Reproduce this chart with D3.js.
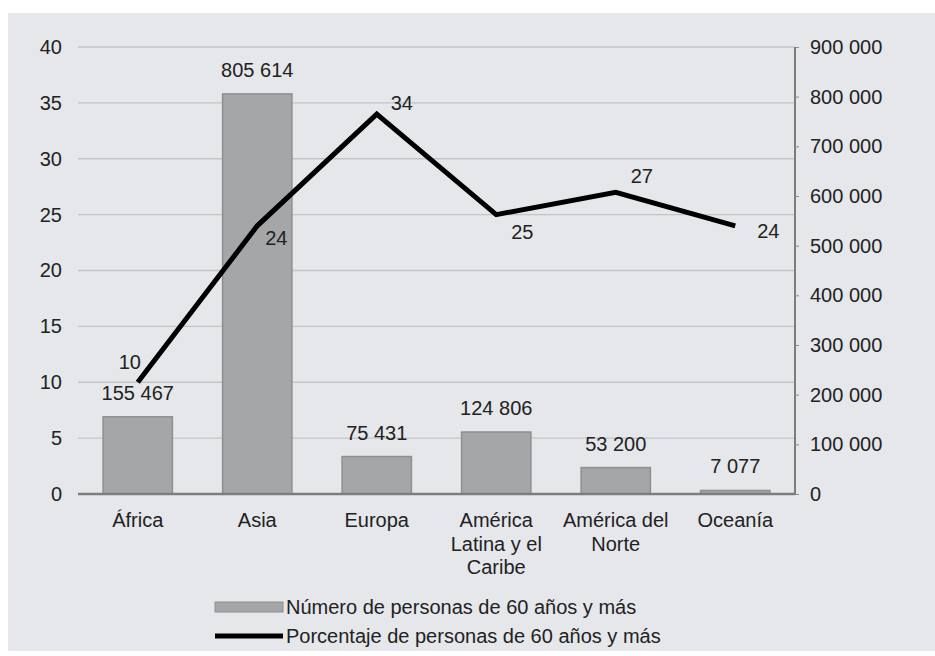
<!DOCTYPE html>
<html>
<head>
<meta charset="utf-8">
<script src="https://cdn.jsdelivr.net/npm/d3@7"></script>
<style>
  html, body { margin: 0; padding: 0; background: #ffffff; }
  svg { display: block; }
  text { font-family: "Liberation Sans", Arial, sans-serif; font-size: 20px; fill: #222; }
</style>
</head>
<body>
<svg id="chart" width="935" height="656"></svg>
<script>
// Regions and their line-broken axis labels
const categories = ["África", "Asia", "Europa", "América Latina y el Caribe", "América del Norte", "Oceanía"];
const categoryLines = [["África"], ["Asia"], ["Europa"], ["América", "Latina y el", "Caribe"], ["América del", "Norte"], ["Oceanía"]];

// Number of people aged 60+ (right axis, bars)
const personas = [155467, 805614, 75431, 124806, 53200, 7077];
// Percentage of people aged 60+ (left axis, line)
const porcentaje = [10, 24, 34, 25, 27, 24];

const leftTicks = [0, 5, 10, 15, 20, 25, 30, 35, 40];
const rightTicks = [0, 100000, 200000, 300000, 400000, 500000, 600000, 700000, 800000, 900000];

const legendLabels = ["Número de personas de 60 años y más", "Porcentaje de personas de 60 años y más"];

// Label placement around each line point
const lineLabelOffsets = [[-8, -20], [19, 12], [25, -11], [26, 17], [26, -16], [33, 5]];

const fmt = d3.formatLocale({ decimal: ",", thousands: " ", grouping: [3], currency: ["", ""] }).format(",");

const svg = d3.select("#chart");

// panel background
svg.append("rect").attr("x", 8).attr("y", 13).attr("width", 927).attr("height", 638).attr("fill", "#e5e7ea");

const plotLeft = 78, plotRight = 795, plotTop = 47, plotBottom = 494;

const x = d3.scaleBand().domain(categories).range([plotLeft, plotRight]).paddingInner(0.42).paddingOuter(0.21);
const yL = d3.scaleLinear().domain([0, 40]).range([plotBottom, plotTop]);
const yR = d3.scaleLinear().domain([0, 900000]).range([plotBottom, plotTop]);
const cx = i => x(categories[i]) + x.bandwidth() / 2;

// horizontal gridlines
svg.append("g").selectAll("line").data(leftTicks.filter(t => t > 0)).join("line")
  .attr("x1", plotLeft).attr("x2", plotRight)
  .attr("y1", d => yL(d)).attr("y2", d => yL(d))
  .attr("stroke", "#c3c4c6").attr("stroke-width", 1.3);

// left axis labels
const axL = svg.append("g").attr("transform", `translate(${plotLeft},0)`)
  .call(d3.axisLeft(yL).tickValues(leftTicks).tickSize(0).tickPadding(16));
axL.select(".domain").remove();
axL.selectAll("text").style("font-size", "20px").style("font-family", "Liberation Sans, Arial, sans-serif").attr("fill", "#222");

// right axis
const axR = svg.append("g").attr("transform", `translate(${plotRight},0)`)
  .call(d3.axisRight(yR).tickValues(rightTicks).tickSize(4).tickPadding(11).tickFormat(d => fmt(d)));
axR.select(".domain").attr("stroke", "#7d7d7d").attr("stroke-width", 2).attr("d", `M0,${plotTop}V${plotBottom}`);
axR.selectAll(".tick line").attr("stroke", "#8a8a8a");
axR.selectAll("text").style("font-size", "20px").style("font-family", "Liberation Sans, Arial, sans-serif").attr("fill", "#222");

// bars
svg.append("g").selectAll("rect").data(personas).join("rect")
  .attr("x", (d, i) => x(categories[i]))
  .attr("y", d => yR(d))
  .attr("width", x.bandwidth())
  .attr("height", d => plotBottom - yR(d))
  .attr("fill", "#a5a6a8").attr("stroke", "#8e8f91").attr("stroke-width", 1.5);

// bar value labels
svg.append("g").selectAll("text").data(personas).join("text")
  .attr("x", (d, i) => cx(i))
  .attr("y", d => yR(d) - 24)
  .attr("text-anchor", "middle").attr("dominant-baseline", "central")
  .text(d => fmt(d));

// category axis baseline
svg.append("line").attr("x1", plotLeft).attr("x2", plotRight).attr("y1", plotBottom).attr("y2", plotBottom)
  .attr("stroke", "#7d7d7d").attr("stroke-width", 2.5);

// category labels
const cat = svg.append("g").selectAll("text").data(categoryLines).join("text")
  .attr("text-anchor", "middle")
  .attr("transform", (d, i) => `translate(${cx(i)},${plotBottom + 26})`);
cat.selectAll("tspan").data(d => d).join("tspan")
  .attr("x", 0).attr("y", (d, j) => j * 23.5).attr("dominant-baseline", "central")
  .text(d => d);

// percentage line
const line = d3.line()
  .x((d, i) => cx(i))
  .y(d => yL(d));
svg.append("path").datum(porcentaje).attr("d", line)
  .attr("fill", "none").attr("stroke", "#000").attr("stroke-width", 5).attr("stroke-linejoin", "miter");

// percentage labels
svg.append("g").selectAll("text").data(porcentaje).join("text")
  .attr("x", (d, i) => cx(i) + lineLabelOffsets[i][0])
  .attr("y", (d, i) => yL(d) + lineLabelOffsets[i][1])
  .attr("text-anchor", "middle").attr("dominant-baseline", "central")
  .text(d => d);

// legend
const lg = svg.append("g").attr("transform", "translate(215,607)");
lg.append("rect").attr("x", 0).attr("y", -5).attr("width", 68).attr("height", 10)
  .attr("fill", "#a5a6a8").attr("stroke", "#8e8f91").attr("stroke-width", 1);
lg.append("line").attr("x1", 0).attr("x2", 68).attr("y1", 29).attr("y2", 29)
  .attr("stroke", "#000").attr("stroke-width", 5);
lg.selectAll("text").data(legendLabels).join("text")
  .attr("x", 71).attr("y", (d, i) => i * 29).attr("dominant-baseline", "central")
  .text(d => d);
</script>
</body>
</html>
